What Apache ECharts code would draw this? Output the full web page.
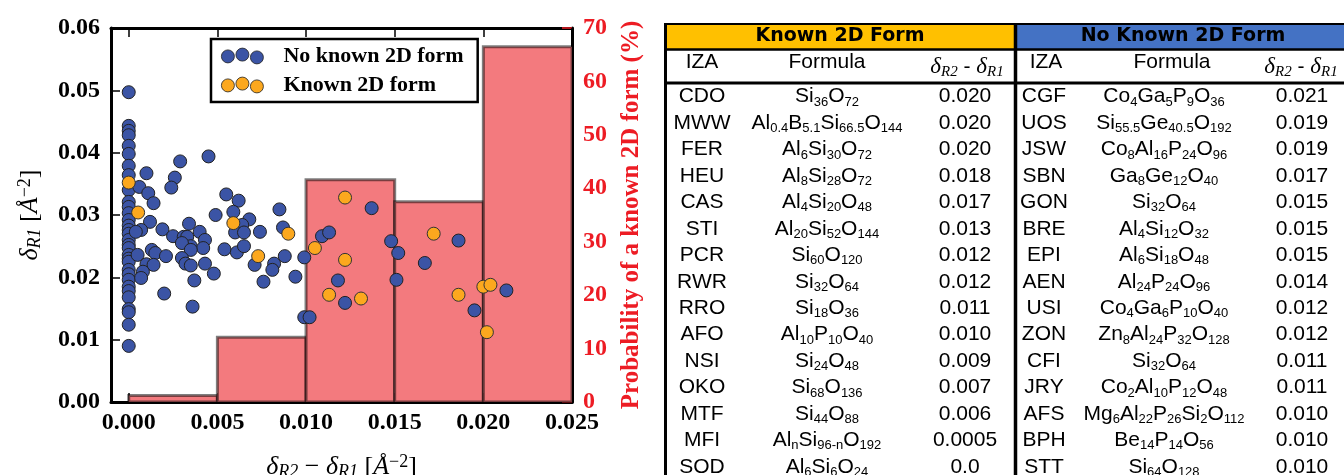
<!DOCTYPE html>
<html>
<head>
<meta charset="utf-8">
<script src="https://cdn.jsdelivr.net/npm/echarts@6/dist/echarts.min.js"></script>
<style>html,body{margin:0;padding:0;background:#fff}#c{width:1344px;height:475px}</style>
</head>
<body>
<div id="c"></div>
<script>
// ---------------- data ----------------
const histEdges = [0.000, 0.005, 0.010, 0.015, 0.020, 0.025];
const histProb = [1.2, 12.1, 41.6, 37.5, 66.5];

const noKnownPts = [
  [0,0.0497],[0,0.0443],[0,0.0435],[0,0.0428],[0,0.0411],[0,0.0398],[0,0.0379],[0,0.0364],
  [0,0.0340],[0,0.0321],[0,0.0313],[0,0.0303],[0,0.0292],[0,0.0283],[0,0.0276],[0,0.0270],
  [0,0.0260],[0,0.0252],[0,0.0247],[0,0.0236],[0,0.0230],[0,0.0225],[0,0.0212],[0,0.0205],
  [0,0.0196],[0,0.0185],[0,0.0178],[0,0.0168],[0,0.0149],[0,0.0144],[0,0.0124],[0,0.0090],
  [0.0010,0.0367],[0.0006,0.0345],[0.0011,0.0335],[0.0014,0.0319],[0.0012,0.0289],[0.0007,0.0276],
  [0.0004,0.0273],[0.0005,0.0236],[0.0013,0.0244],[0.0015,0.0239],[0.0010,0.0221],[0.0014,0.0220],
  [0.0008,0.0209],[0.0007,0.0199],[0.0020,0.0174],[0.0021,0.0234],[0.0019,0.0277],[0.0025,0.0266],
  [0.0029,0.0386],[0.0026,0.0360],[0.0024,0.0344],[0.0045,0.0394],[0.0031,0.0265],[0.0033,0.0265],
  [0.0034,0.0286],[0.0040,0.0273],[0.0043,0.0260],[0.0035,0.0250],[0.0030,0.0255],[0.0042,0.0247],
  [0.0035,0.0244],[0.0030,0.0231],[0.0032,0.0222],[0.0035,0.0219],[0.0043,0.0222],[0.0048,0.0206],
  [0.0037,0.0195],[0.0036,0.0153],[0.0049,0.0300],[0.0055,0.0333],[0.0062,0.0323],[0.0059,0.0305],
  [0.0068,0.0293],[0.0064,0.0284],[0.0060,0.0272],[0.0065,0.0272],[0.0074,0.0273],[0.0054,0.0245],
  [0.0061,0.0240],[0.0065,0.0250],[0.0071,0.0220],[0.0082,0.0222],[0.0081,0.0212],[0.0076,0.0193],
  [0.0088,0.0234],[0.0094,0.0201],[0.0085,0.0309],[0.0087,0.0280],[0.0099,0.0232],[0.0109,0.0266],
  [0.0099,0.0136],[0.0102,0.0136],[0.0113,0.0272],[0.0137,0.0311],[0.0118,0.0195],[0.0122,0.0159],
  [0.0148,0.0258],[0.0152,0.0239],[0.0151,0.0196],[0.0186,0.0259],[0.0167,0.0223],[0.0195,0.0147],
  [0.0213,0.0179]
];
const knownPts = [
  [0,0.0352],[0.00053,0.0304],[0.0059,0.0287],[0.0073,0.0234],[0.0090,0.0270],[0.0105,0.0247],
  [0.0113,0.0172],[0.0122,0.0328],[0.0122,0.0228],[0.0131,0.0166],[0.0172,0.0270],[0.0186,0.0172],
  [0.0200,0.0185],[0.0204,0.0188],[0.0202,0.0112]
];

const seriesNames = ['No known 2D form', 'Known 2D form'];

const tableHeaders = ['Known 2D Form', 'No Known 2D Form'];
const columnHeaders = ['IZA', 'Formula'];
const knownIZA = ['CDO','MWW','FER','HEU','CAS','STI','PCR','RWR','RRO','AFO','NSI','OKO','MTF','MFI','SOD'];
const knownFormula = ['Si36O72','Al0.4B5.1Si66.5O144','Al6Si30O72','Al8Si28O72','Al4Si20O48','Al20Si52O144','Si60O120','Si32O64','Si18O36','Al10P10O40','Si24O48','Si68O136','Si44O88','AlnSi96-nO192','Al6Si6O24'];
const knownDelta = ['0.020','0.020','0.020','0.018','0.017','0.013','0.012','0.012','0.011','0.010','0.009','0.007','0.006','0.0005','0.0'];
const noIZA = ['CGF','UOS','JSW','SBN','GON','BRE','EPI','AEN','USI','ZON','CFI','JRY','AFS','BPH','STT'];
const noFormula = ['Co4Ga5P9O36','Si55.5Ge40.5O192','Co8Al16P24O96','Ga8Ge12O40','Si32O64','Al4Si12O32','Al6Si18O48','Al24P24O96','Co4Ga6P10O40','Zn8Al24P32O128','Si32O64','Co2Al10P12O48','Mg6Al22P26Si2O112','Be14P14O56','Si64O128'];
const noDelta = ['0.021','0.019','0.019','0.017','0.015','0.015','0.015','0.014','0.012','0.012','0.011','0.011','0.010','0.010','0.010'];

// ---------------- styles ----------------
const SERIF = 'Liberation Serif';
const SANS = 'Liberation Sans';
const RED = '#ED1C24';
const BLUE = '#3B54A5';
const ORANGE = '#FCA81E';

const mathRich = {
  d: {fontFamily: SERIF, fontStyle: 'italic', fontSize: 26, lineHeight: 28, color: '#000'},
  s: {fontFamily: SERIF, fontStyle: 'italic', fontSize: 18, lineHeight: 16, verticalAlign: 'bottom', color: '#000'},
  n: {fontFamily: SERIF, fontSize: 26, lineHeight: 28, color: '#000'},
  p: {fontFamily: SERIF, fontSize: 18, lineHeight: 16, verticalAlign: 'top', color: '#000'}
};
const tickFont = {fontFamily: SERIF, fontWeight: 'bold', fontSize: 24, color: '#000'};

// ---------------- table (graphic) ----------------
function chem(f) {
  return f.replace(/([A-Z][a-z]?)([0-9.\-n]*)/g, (m, e, s) => '{m|' + e + '}' + (s ? '{s|' + s + '}' : ''));
}
const cellRich = {
  m: {fontFamily: SANS, fontSize: 21, lineHeight: 24, fill: '#000'},
  s: {fontFamily: SANS, fontSize: 13, lineHeight: 13, verticalAlign: 'bottom', fill: '#000'}
};
const deltaRich = {
  d: {fontFamily: SERIF, fontStyle: 'italic', fontSize: 23, lineHeight: 26, fill: '#000'},
  s: {fontFamily: SERIF, fontStyle: 'italic', fontSize: 15, lineHeight: 15, verticalAlign: 'bottom', fill: '#000'},
  n: {fontFamily: SANS, fontSize: 21, lineHeight: 26, fill: '#000'}
};
function txt(x, y, text, rich, extra) {
  return Object.assign({type: 'text', x: x, y: y, silent: true, z: 10,
    style: Object.assign({text: text, rich: rich, align: 'center', verticalAlign: 'middle',
      fill: '#000', fontFamily: SANS, fontSize: 21}, extra || {})});
}
function hline(x1, x2, y, w) {
  return {type: 'line', silent: true, z: 11, shape: {x1: x1, y1: y, x2: x2, y2: y}, style: {stroke: '#000', lineWidth: w}};
}
function vline(x, y1, y2, w) {
  return {type: 'line', silent: true, z: 11, shape: {x1: x, y1: y1, x2: x, y2: y2}, style: {stroke: '#000', lineWidth: w}};
}
const L = {left: 665.5, split: 1015.5, right: 1344, top: 24, h1: 49.5, h2: 83, rowY0: 96.7, rowH: 26.43};
const halves = [
  {title: tableHeaders[0], fill: '#FFC000', x0: 666, x1: 1014, tx: 840,
   iza: knownIZA, formula: knownFormula, delta: knownDelta, hc: [702, 827, 967], cc: [702, 827, 965]},
  {title: tableHeaders[1], fill: '#4472C4', x0: 1017, x1: 1344, tx: 1183,
   iza: noIZA, formula: noFormula, delta: noDelta, hc: [1046, 1172, 1301], cc: [1044, 1164, 1302]}
];
const tableEls = [];
halves.forEach(h => {
  tableEls.push({type: 'rect', silent: true, z: 9, shape: {x: h.x0, y: L.top, width: h.x1 - h.x0, height: L.h1 - L.top},
    style: {fill: h.fill}});
  tableEls.push(txt(h.tx, 36.5, h.title, null, {fontFamily: 'DejaVu Sans', fontWeight: 'bold', fontSize: 19}));
  tableEls.push(txt(h.hc[0], 62, '{m|' + columnHeaders[0] + '}', cellRich));
  tableEls.push(txt(h.hc[1], 62, '{m|' + columnHeaders[1] + '}', cellRich));
  tableEls.push(txt(h.hc[2], 67, '{d|δ}{s|R2}{n| - }{d|δ}{s|R1}', deltaRich));
  h.iza.forEach((name, i) => {
    const y = L.rowY0 + i * L.rowH;
    tableEls.push(txt(h.cc[0], y, '{m|' + name + '}', cellRich));
    tableEls.push(txt(h.cc[1], y, chem(h.formula[i]), cellRich));
    tableEls.push(txt(h.cc[2], y, '{m|' + h.delta[i] + '}', cellRich));
  });
});
tableEls.push(hline(L.left, L.right, L.top, 2));
tableEls.push(hline(L.left, L.right, L.h1, 2.5));
tableEls.push(hline(L.left, L.right, L.h2, 3));
tableEls.push(vline(L.left, L.top - 1, 475, 3));
tableEls.push(vline(L.split, L.top - 1, 475, 3.5));

// ---------------- chart ----------------
const chart = echarts.init(document.getElementById('c'), null, {renderer: 'canvas'});
const legendIcon = 'path://M0,8.3A6.5,6.5,0,1,0,13,8.3A6.5,6.5,0,1,0,0,8.3ZM14.5,6.5A6.5,6.5,0,1,0,27.5,6.5A6.5,6.5,0,1,0,14.5,6.5ZM29,9.3A6.5,6.5,0,1,0,42,9.3A6.5,6.5,0,1,0,29,9.3Z';

const frameLine = {show: true, onZero: false, lineStyle: {color: '#000', width: 3}};
const option = {
  animation: false,
  backgroundColor: '#fff',
  grid: {left: 111, right: 772, top: 28, bottom: 73, containLabel: false, outerBoundsMode: 'none'},
  legend: {
    orient: 'vertical', left: 211, top: 39,
    padding: [6, 14, 6, 10], itemGap: 7,
    itemWidth: 42, itemHeight: 16, icon: legendIcon,
    borderColor: '#000', borderWidth: 2.5, backgroundColor: '#fff',
    selectedMode: false,
    data: seriesNames,
    itemStyle: {borderWidth: 0.8, borderColor: '#222'},
    formatter: name => '{g| }{t|' + name + '}',
    textStyle: {rich: {
      g: {width: 15},
      t: {fontFamily: SERIF, fontWeight: 'bold', fontSize: 22, lineHeight: 24, color: '#000'}
    }}
  },
  xAxis: [{
    type: 'value', position: 'bottom', min: -0.001, max: 0.025,
    minInterval: 0.005, maxInterval: 0.005, splitNumber: 5,
    axisLine: frameLine,
    axisTick: {show: true, inside: true, length: 9, lineStyle: {color: '#000', width: 1.5}},
    axisLabel: Object.assign({showMinLabel: false, margin: 9,
      formatter: v => (v < 0 ? '' : v.toFixed(3))}, tickFont),
    splitLine: {show: false},
    name: '{d|δ}{s|R2}{n| − }{d|δ}{s|R1}{n| [}{d|Å}{p|−2}{n|]}',
    nameLocation: 'middle', nameGap: 51,
    nameTextStyle: {rich: mathRich}
  }, {
    type: 'value', position: 'top', min: -0.001, max: 0.025,
    minInterval: 0.005, maxInterval: 0.005, splitNumber: 5,
    axisLine: frameLine,
    axisTick: {show: true, inside: true, length: 9, lineStyle: {color: '#000', width: 1.5}},
    axisLabel: {show: false},
    splitLine: {show: false}
  }],
  yAxis: [{
    type: 'value', position: 'left', min: 0, max: 0.06, interval: 0.01,
    axisLine: frameLine,
    axisTick: {show: true, inside: true, length: 9, lineStyle: {color: '#000', width: 1.5}},
    axisLabel: Object.assign({margin: 11, formatter: v => v.toFixed(2)}, tickFont),
    splitLine: {show: false},
    name: '{d|δ}{s|R1}{n| [}{d|Å}{p|−2}{n|]}',
    nameLocation: 'middle', nameGap: 67, nameRotate: 90,
    nameTextStyle: {rich: mathRich}
  }, {
    type: 'value', position: 'right', min: 0, max: 70, interval: 10,
    axisLine: frameLine,
    axisTick: {show: true, inside: true, length: 10, lineStyle: {color: RED, width: 1.5}},
    axisLabel: Object.assign({}, tickFont, {margin: 11, color: RED}),
    splitLine: {show: false},
    name: 'Probability of a known 2D form (%)',
    nameLocation: 'middle', nameGap: 47, nameRotate: 90,
    nameTextStyle: {fontFamily: SERIF, fontWeight: 'bold', fontSize: 25, lineHeight: 25, color: RED}
  }],
  series: [{
    type: 'custom', name: 'hist', xAxisIndex: 0, yAxisIndex: 1, z: 1,
    data: histProb.map((p, i) => [histEdges[i], histEdges[i + 1], p]),
    encode: {x: [0, 1], y: 2},
    renderItem: (params, api) => {
      const a = api.coord([api.value(0), api.value(2)]);
      const b = api.coord([api.value(1), 0]);
      return {type: 'rect', shape: {x: a[0], y: a[1], width: b[0] - a[0], height: b[1] - a[1]},
        style: {fill: '#F37A7E', stroke: 'rgba(0,0,0,0.5)', lineWidth: 3}};
    }
  }, {
    type: 'scatter', name: seriesNames[0], xAxisIndex: 0, yAxisIndex: 0, z: 3,
    data: noKnownPts, symbolSize: 13,
    itemStyle: {color: BLUE, borderColor: '#222', borderWidth: 1, opacity: 1}
  }, {
    type: 'scatter', name: seriesNames[1], xAxisIndex: 0, yAxisIndex: 0, z: 4,
    data: knownPts, symbolSize: 13,
    itemStyle: {color: ORANGE, borderColor: '#333', borderWidth: 1, opacity: 1}
  }],
  graphic: {elements: tableEls}
};
chart.setOption(option);
</script>
</body>
</html>
